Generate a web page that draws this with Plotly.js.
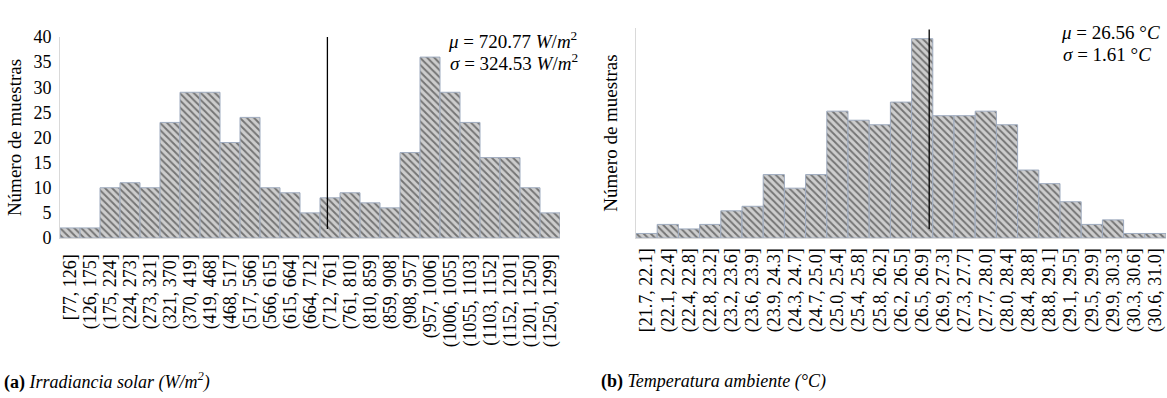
<!DOCTYPE html>
<html>
<head>
<meta charset="utf-8">
<script src="https://cdn.plot.ly/plotly-3.0.1.min.js"></script>
<style>html,body{margin:0;padding:0;background:#fff;}#chart{width:1167px;height:398px;}</style>
</head>
<body>
<div id="chart"></div>
<script>
// ---- Data ----
const irrCategories = ['[77, 126]', '(126, 175]', '(175, 224]', '(224, 273]', '(273, 321]', '(321, 370]', '(370, 419]', '(419, 468]', '(468, 517]', '(517, 566]', '(566, 615]', '(615, 664]', '(664, 712]', '(712, 761]', '(761, 810]', '(810, 859]', '(859, 908]', '(908, 957]', '(957, 1006]', '(1006, 1055]', '(1055, 1103]', '(1103, 1152]', '(1152, 1201]', '(1201, 1250]', '(1250, 1299]'];
const irrCounts = [2, 2, 10, 11, 10, 23, 29, 29, 19, 24, 10, 9, 5, 8, 9, 7, 6, 17, 36, 29, 23, 16, 16, 10, 5];
const irrMean = 720.77;
const irrStd = 324.53;
const irrMeanLinePos = 12.87;   // mean marker position (bin-index units)

const tempCategories = ['[21.7, 22.1]', '(22.1, 22.4]', '(22.4, 22.8]', '(22.8, 23.2]', '(23.2, 23.6]', '(23.6, 23.9]', '(23.9, 24.3]', '(24.3, 24.7]', '(24.7, 25.0]', '(25.0, 25.4]', '(25.4, 25.8]', '(25.8, 26.2]', '(26.2, 26.5]', '(26.5, 26.9]', '(26.9, 27.3]', '(27.3, 27.7]', '(27.7, 28.0]', '(28.0, 28.4]', '(28.4, 28.8]', '(28.8, 29.1]', '(29.1, 29.5]', '(29.5, 29.9]', '(29.9, 30.3]', '(30.3, 30.6]', '(30.6, 31.0]'];
const tempCounts = [1, 3, 2, 3, 6, 7, 14, 11, 14, 28, 26, 25, 30, 44, 27, 27, 28, 25, 15, 12, 8, 3, 4, 1, 1];
const tempMean = 26.56;
const tempStd = 1.61;
const tempMeanLinePos = 13.33;

const yTitle = 'Número de muestras';
const captionA = '<b>(a)</b> <i>Irradiancia solar (W/m<sup>2</sup>)</i>';
const captionB = '<b>(b)</b> <i>Temperatura ambiente (°C)</i>';

// ---- Layout helpers ----
const W = 1167, H = 398;
const px = v => v / W;
const py = v => 1 - v / H;
const serif = 'Liberation Serif';

const barStyle = {
  color: '#c6c6c6',
  line: {color: '#9eabbf', width: 1},
  pattern: {shape: '\\', fgcolor: '#747474', bgcolor: '#cdcdcd', size: 5, solidity: 0.38, fillmode: 'replace'}
};

const traces = [
  {type: 'bar', x: irrCategories, y: irrCounts, xaxis: 'x', yaxis: 'y', marker: barStyle, hoverinfo: 'x+y'},
  {type: 'bar', x: tempCategories, y: tempCounts, xaxis: 'x2', yaxis: 'y2', marker: barStyle, hoverinfo: 'x+y'}
];

const baseY = 238;
const tempScale = 4.53;  // px per sample (right)

const xTickFont = {family: serif, size: 18, color: '#000'};

const layout = {
  width: W, height: H, autosize: false,
  margin: {l: 0, r: 0, t: 0, b: 0, pad: 0},
  paper_bgcolor: '#fff', plot_bgcolor: 'rgba(0,0,0,0)',
  showlegend: false, bargap: 0,
  font: {family: serif, color: '#000', size: 18},
  xaxis: {
    domain: [px(60), px(560)], anchor: 'y', type: 'category',
    range: [-0.5, irrCategories.length - 0.5],
    tickmode: 'linear', tick0: 0, dtick: 1,
    tickangle: -90, tickfont: xTickFont,
    showgrid: false, zeroline: false, showline: true, linecolor: '#d9d9d9', linewidth: 1,
    ticks: '', ticklabelstandoff: 8
  },
  yaxis: {
    domain: [py(baseY), py(37)], anchor: 'x',
    range: [0, 40], dtick: 5, tick0: 0,
    tickfont: {family: serif, size: 18, color: '#000'},
    showgrid: false, zeroline: false, showline: true, linecolor: '#d9d9d9', linewidth: 1,
    ticks: '', ticklabelstandoff: 4,
    title: {text: yTitle, font: {family: serif, size: 19, color: '#000'}, standoff: 6}
  },
  xaxis2: {
    domain: [px(636), px(1166)], anchor: 'y2', type: 'category',
    range: [-0.5, tempCategories.length - 0.5],
    tickmode: 'linear', tick0: 0, dtick: 1,
    tickangle: -90, tickfont: xTickFont,
    showgrid: false, zeroline: false, showline: true, linecolor: '#d9d9d9', linewidth: 1,
    ticks: '', ticklabelstandoff: 2
  },
  yaxis2: {
    domain: [py(baseY), py(28)], anchor: 'x2',
    range: [0, (baseY - 28) / tempScale],
    showticklabels: false,
    showgrid: false, zeroline: false, showline: true, linecolor: '#d9d9d9', linewidth: 1,
    ticks: '',
    title: {text: yTitle, font: {family: serif, size: 19, color: '#000'}, standoff: 12}
  },
  shapes: [
    {type: 'line', xref: 'x', yref: 'y', x0: irrMeanLinePos, x1: irrMeanLinePos, y0: 1.8, y1: 40.4, line: {color: '#000', width: 1.3}},
    {type: 'line', xref: 'x2', yref: 'y2', x0: tempMeanLinePos, x1: tempMeanLinePos, y0: 2.0, y1: 46.0, line: {color: '#000', width: 1.3}}
  ],
  annotations: [
    {xref: 'paper', yref: 'paper', x: px(446), y: py(40), xanchor: 'left', yanchor: 'middle', showarrow: false,
     text: '<i>μ</i> = ' + irrMean.toFixed(2) + ' <i>W</i>/<i>m</i><sup>2</sup>', font: {family: serif, size: 19, color: '#000'}},
    {xref: 'paper', yref: 'paper', x: px(448), y: py(62), xanchor: 'left', yanchor: 'middle', showarrow: false,
     text: '<i>σ</i> = ' + irrStd.toFixed(2) + ' <i>W</i>/<i>m</i><sup>2</sup>', font: {family: serif, size: 19, color: '#000'}},
    {xref: 'paper', yref: 'paper', x: px(1059), y: py(33), xanchor: 'left', yanchor: 'middle', showarrow: false,
     text: '<i>μ</i> = ' + tempMean.toFixed(2) + ' °<i>C</i>', font: {family: serif, size: 19, color: '#000'}},
    {xref: 'paper', yref: 'paper', x: px(1061), y: py(55), xanchor: 'left', yanchor: 'middle', showarrow: false,
     text: '<i>σ</i> = ' + tempStd.toFixed(2) + ' °<i>C</i>', font: {family: serif, size: 19, color: '#000'}},
    {xref: 'paper', yref: 'paper', x: px(2), y: py(381), xanchor: 'left', yanchor: 'middle', showarrow: false,
     text: captionA, font: {family: serif, size: 18, color: '#000'}},
    {xref: 'paper', yref: 'paper', x: px(599), y: py(381), xanchor: 'left', yanchor: 'middle', showarrow: false,
     text: captionB, font: {family: serif, size: 18, color: '#000'}}
  ]
};

Plotly.newPlot('chart', traces, layout, {staticPlot: true, displayModeBar: false});
</script>
</body>
</html>
